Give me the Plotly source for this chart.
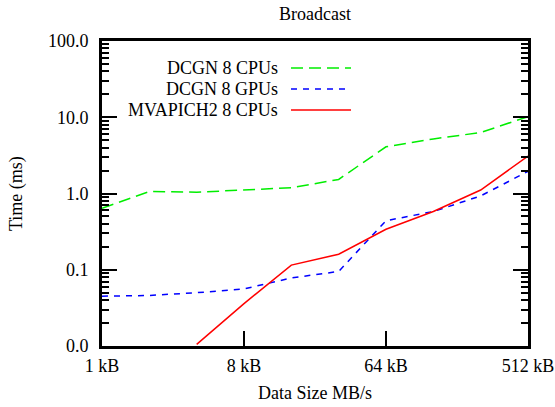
import plotly.graph_objects as go

# ---- data ----
sizes_kb = [1, 2, 4, 8, 16, 32, 64, 128, 256, 512]
dcgn_cpu = [0.64, 1.06, 1.04, 1.10, 1.19, 1.53, 4.1, 5.2, 6.3, 10.2]
dcgn_gpu = [0.045, 0.046, 0.050, 0.056, 0.078, 0.095, 0.44, 0.58, 0.93, 1.95]
mvapich_cpu = [None, None, 0.0105, 0.036, 0.115, 0.16, 0.34, 0.58, 1.11, 3.1]

x_tickvals = [1, 8, 64, 512]
x_ticktext = ["1 kB", "8 kB", "64 kB", "512 kB"]
y_tickvals = [0.01, 0.1, 1, 10, 100]
y_ticktext = ["0.0", "0.1", "1.0", "10.0", "100.0"]

series_names = ["DCGN 8 CPUs", "DCGN 8 GPUs", "MVAPICH2 8 CPUs"]
series_data = [dcgn_cpu, dcgn_gpu, mvapich_cpu]
series_colors = ["#00ee00", "#0000ff", "#ff0000"]
series_dash = ["12px,6px", "6px,6px", "solid"]

FONT = "Liberation Serif, DejaVu Serif, serif"

W, H = 555, 407
PL, PR, PT, PB = 102, 528, 41, 346   # plot area in window pixels
L, T, R, B = PL, PT, W - PR, H - PB
PW, PH = PR - PL, PB - PT


def px_x(px):
    return (px - PL) / PW


def px_y(py):
    return (PB - py) / PH


fig = go.Figure()
for name, ys, col, dash in zip(series_names, series_data, series_colors, series_dash):
    fig.add_trace(go.Scatter(
        x=sizes_kb, y=ys, mode="lines", name=name,
        line=dict(color=col, width=1.5, dash=dash),
        showlegend=False, connectgaps=False,
    ))

# manual gnuplot-style key: right-aligned text, sample line on the right
row_y = [68, 89, 110]
shapes = []
annotations = []
for name, col, dash, ry in zip(series_names, series_colors, series_dash, row_y):
    annotations.append(dict(
        x=px_x(280), y=px_y(ry), xref="paper", yref="paper",
        text=name, showarrow=False, xanchor="right", yanchor="middle",
        font=dict(family=FONT, size=18, color="black"),
    ))
    shapes.append(dict(
        type="line", xref="paper", yref="paper",
        x0=px_x(291), x1=px_x(351), y0=px_y(ry), y1=px_y(ry),
        line=dict(color=col, width=1.5, dash=dash),
    ))

annotations.append(dict(
    x=0.5, y=px_y(14), xref="paper", yref="paper", text="Broadcast",
    showarrow=False, xanchor="center", yanchor="middle",
    font=dict(family=FONT, size=18, color="black"),
))
annotations.append(dict(
    x=0.5, y=px_y(393), xref="paper", yref="paper", text="Data Size MB/s",
    showarrow=False, xanchor="center", yanchor="middle",
    font=dict(family=FONT, size=18, color="black"),
))
annotations.append(dict(
    x=px_x(16), y=px_y(194), xref="paper", yref="paper", text="Time (ms)",
    showarrow=False, xanchor="center", yanchor="middle", textangle=-90,
    font=dict(family=FONT, size=18, color="black"),
))

fig.update_layout(
    width=W, height=H,
    margin=dict(l=L, r=R, t=T, b=B, pad=0, autoexpand=False),
    paper_bgcolor="white", plot_bgcolor="white",
    font=dict(family=FONT, size=18, color="black"),
    shapes=shapes, annotations=annotations,
    showlegend=False,
)
fig.update_xaxes(
    type="log", range=[0, 2.70927], tickvals=x_tickvals, ticktext=x_ticktext,
    ticks="inside", ticklen=15, tickwidth=2, tickcolor="black",
    showline=True, linewidth=3, linecolor="black", mirror=True,
    showgrid=False, zeroline=False, ticklabelstandoff=1, automargin=False,
)
fig.update_yaxes(
    type="log", range=[-2, 2], tickvals=y_tickvals, ticktext=y_ticktext,
    ticks="inside", ticklen=15, tickwidth=2, tickcolor="black",
    showline=True, linewidth=3, linecolor="black", mirror="ticks",
    showgrid=False, zeroline=False, ticklabelstandoff=7, automargin=False,
    minor=dict(ticks="inside", ticklen=7, tickwidth=2, tickcolor="black",
               dtick="D1", showgrid=False),
)

fig.write_html("out.html", config={"displayModeBar": False},
               post_script="document.body.style.margin='0';")
